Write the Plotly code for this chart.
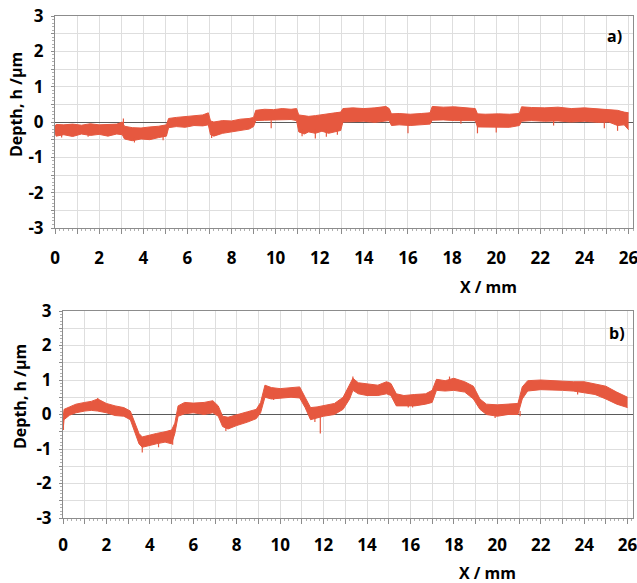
import plotly.graph_objects as go

# ---------------- data ----------------
# panel a): x positions, lower and upper edge of the noisy profile band (µm)
xa = [0.00, 0.05, 0.40, 0.80, 1.20, 1.60, 2.00, 2.40, 2.80, 3.05,
      3.15, 3.50, 3.90, 4.30, 4.70, 5.05,
      5.15, 5.50, 5.90, 6.30, 6.70, 6.95,
      7.05, 7.20, 7.60, 8.00, 8.40, 8.80, 9.00,
      9.10, 9.50, 9.90, 10.30, 10.70, 10.95,
      11.05, 11.30, 11.50, 11.80, 12.10, 12.40, 12.70, 12.95,
      13.05, 13.50, 14.00, 14.50, 15.00, 15.15,
      15.25, 15.60, 16.10, 16.60, 17.00,
      17.10, 17.60, 18.10, 18.60, 19.05,
      19.15, 19.50, 20.10, 20.60, 21.05,
      21.15, 21.60, 22.20, 22.80, 23.40, 24.00, 24.60, 25.10, 25.50, 25.80, 26.00]
lo_a = [-0.28, -0.40, -0.36, -0.41, -0.34, -0.38, -0.35, -0.40, -0.34, -0.36,
        -0.48, -0.53, -0.48, -0.50, -0.44, -0.40,
        -0.16, -0.13, -0.15, -0.10, -0.11, -0.08,
        -0.36, -0.40, -0.32, -0.28, -0.26, -0.20, -0.13,
        0.04, 0.05, 0.06, 0.05, 0.07, 0.04,
        -0.28, -0.34, -0.28, -0.32, -0.26, -0.32, -0.28, -0.24,
        0.00, 0.00, 0.02, -0.01, 0.02, 0.04,
        -0.10, -0.08, -0.10, -0.08, -0.06,
        0.05, 0.06, 0.04, 0.05, 0.04,
        -0.14, -0.14, -0.13, -0.15, -0.10,
        0.02, 0.04, 0.02, 0.03, 0.00, 0.02, -0.01, 0.00, -0.10, -0.08, -0.22]
hi_a = [-0.12, -0.07, -0.08, -0.06, -0.09, -0.05, -0.08, -0.07, -0.06, 0.00,
        -0.12, -0.16, -0.17, -0.14, -0.12, -0.08,
        0.10, 0.13, 0.16, 0.18, 0.20, 0.26,
        0.03, 0.00, 0.04, 0.03, 0.08, 0.10, 0.13,
        0.33, 0.36, 0.35, 0.38, 0.36, 0.38,
        0.20, 0.18, 0.16, 0.18, 0.20, 0.23, 0.26, 0.28,
        0.38, 0.40, 0.38, 0.40, 0.44, 0.38,
        0.23, 0.24, 0.22, 0.24, 0.26,
        0.44, 0.42, 0.43, 0.40, 0.38,
        0.23, 0.22, 0.23, 0.22, 0.24,
        0.43, 0.41, 0.40, 0.42, 0.38, 0.40, 0.38, 0.36, 0.33, 0.28, 0.26]
# narrow spikes of panel a): x, start, end (µm)
spk_a_x = [0.30, 1.50, 3.10, 3.60, 4.90, 7.10, 9.80, 11.20, 11.80, 12.30, 12.80,
           16.00, 18.40, 19.15, 20.00, 22.60, 24.90, 25.50]
spk_a_from = [-0.30, -0.30, -0.10, -0.45, -0.35, -0.30, 0.05, -0.20, -0.20, -0.20, -0.20,
              -0.05, 0.10, -0.10, -0.10, 0.05, 0.00, 0.00]
spk_a_to = [-0.44, -0.42, 0.10, -0.58, -0.52, -0.45, -0.18, -0.40, -0.47, -0.42, -0.36,
            -0.32, -0.05, -0.32, -0.30, -0.10, -0.18, -0.25]

# panel b)
xb = [0.00, 0.05, 0.30, 0.60, 1.00, 1.30, 1.60, 2.00, 2.40, 2.80, 3.10,
      3.30, 3.50, 3.65, 3.90, 4.30, 4.70, 5.00, 5.15,
      5.30, 5.60, 6.00, 6.50, 6.90, 7.15,
      7.35, 7.60, 8.00, 8.50, 8.90, 9.10,
      9.30, 9.60, 10.00, 10.50, 10.90, 11.15,
      11.40, 11.70, 12.00, 12.50, 12.90,
      13.20, 13.35, 13.60, 14.00, 14.50, 14.90, 15.10,
      15.35, 15.70, 16.20, 16.70, 17.00,
      17.20, 17.60, 18.00, 18.50, 18.90,
      19.20, 19.50, 20.00, 20.50, 20.95,
      21.15, 21.40, 22.00, 22.50, 23.00, 23.50, 24.00, 24.50, 25.00, 25.50, 26.00]
lo_b = [-0.45, -0.15, -0.02, 0.05, 0.10, 0.12, 0.10, 0.05, -0.03, -0.05, -0.15,
        -0.50, -0.85, -0.95, -0.92, -0.85, -0.80, -0.85, -0.55,
        -0.05, 0.02, 0.05, 0.00, 0.05, -0.05,
        -0.35, -0.42, -0.32, -0.22, -0.12, 0.05,
        0.50, 0.45, 0.48, 0.50, 0.48, 0.20,
        -0.15, -0.10, -0.05, 0.00, 0.15,
        0.45, 0.70, 0.60, 0.55, 0.55, 0.60, 0.55,
        0.25, 0.25, 0.25, 0.30, 0.35,
        0.70, 0.68, 0.70, 0.65, 0.45,
        0.15, 0.00, -0.05, 0.00, 0.00,
        0.45, 0.68, 0.72, 0.72, 0.70, 0.68, 0.62, 0.58, 0.45, 0.30, 0.20]
hi_b = [-0.10, 0.15, 0.22, 0.30, 0.35, 0.38, 0.45, 0.32, 0.25, 0.20, 0.10,
        -0.20, -0.55, -0.65, -0.62, -0.55, -0.50, -0.45, -0.25,
        0.25, 0.35, 0.33, 0.35, 0.40, 0.25,
        -0.05, -0.08, 0.00, 0.08, 0.15, 0.35,
        0.85, 0.78, 0.75, 0.78, 0.80, 0.50,
        0.20, 0.22, 0.25, 0.32, 0.50,
        0.85, 1.05, 0.92, 0.88, 0.85, 0.95, 0.90,
        0.60, 0.55, 0.58, 0.60, 0.70,
        1.02, 0.98, 1.05, 0.95, 0.82,
        0.45, 0.30, 0.28, 0.30, 0.32,
        0.80, 0.98, 1.00, 0.98, 0.98, 0.95, 0.95, 0.88, 0.82, 0.65, 0.50]
spk_b_x = [0.02, 1.60, 3.65, 4.40, 5.05, 7.50, 9.70, 11.60, 11.85, 13.35, 15.90,
           16.10, 17.80, 19.90, 21.05, 23.70, 25.20]
spk_b_from = [-0.20, 0.30, -0.80, -0.70, -0.60, -0.30, 0.60, 0.00, 0.00, 0.90, 0.40,
              0.40, 0.90, 0.00, 0.10, 0.80, 0.60]
spk_b_to = [-0.45, 0.48, -1.10, -0.95, -0.88, -0.48, 0.42, -0.22, -0.55, 1.10, 0.20,
            0.20, 1.10, -0.10, -0.05, 0.58, 0.40]

# axis ticks
y_ticks = [-3, -2.5, -2, -1.5, -1, -0.5, 0, 0.5, 1, 1.5, 2, 2.5, 3]
y_labels = ["-3", "", "-2", "", "-1", "", "0", "", "1", "", "2", "", "3"]
x_ticks = list(range(0, 27))
x_labels = [str(v) if v % 2 == 0 else "" for v in x_ticks]

COLOR = "#E6583F"
GRID = "#dedede"
AXIS = "#8c8c8c"
FONT = "Open Sans"

fig = go.Figure()


def add_panel(x, lo, hi, sx, sfrom, sto, xa_name, ya_name):
    fig.add_trace(go.Scatter(x=x, y=lo, mode="lines", line=dict(color=COLOR, width=1),
                             xaxis=xa_name, yaxis=ya_name, showlegend=False, hoverinfo="skip"))
    fig.add_trace(go.Scatter(x=x, y=hi, mode="lines", line=dict(color=COLOR, width=1),
                             fill="tonexty", fillcolor=COLOR,
                             xaxis=xa_name, yaxis=ya_name, showlegend=False, hoverinfo="skip"))
    px, py = [], []
    for xv, a, b in zip(sx, sfrom, sto):
        px += [xv, xv, None]
        py += [a, b, None]
    fig.add_trace(go.Scatter(x=px, y=py, mode="lines", line=dict(color=COLOR, width=1.2),
                             xaxis=xa_name, yaxis=ya_name, showlegend=False, hoverinfo="skip"))


add_panel(xa, lo_a, hi_a, spk_a_x, spk_a_from, spk_a_to, "x", "y")
add_panel(xb, lo_b, hi_b, spk_b_x, spk_b_from, spk_b_to, "x2", "y2")

W, H = 637, 583


def xdom(l, r):
    return [l / W, r / W]


def ydom(top, bottom):
    return [1 - bottom / H, 1 - top / H]


tickfont = dict(family=FONT, size=17, color="black", weight="bold")


def xaxis_cfg(dom, anchor, rng, standoff):
    return dict(domain=dom, anchor=anchor, range=rng, tickmode="array",
                tickvals=x_ticks, ticktext=x_labels, ticks="outside", ticklen=5,
                tickcolor=AXIS, showgrid=True, gridcolor=GRID, gridwidth=1,
                showline=True, linecolor=AXIS, linewidth=1, mirror=True,
                zeroline=False, tickfont=tickfont, ticklabelstandoff=standoff,
                ticklabeloverflow="allow",
                minor=dict(dtick=0.2, ticks="outside", ticklen=2, tickcolor="#b0b0b0",
                           showgrid=False),
                automargin=False, fixedrange=True)


def yaxis_cfg(dom, anchor):
    return dict(domain=dom, anchor=anchor, range=[-3, 3], tickmode="array",
                tickvals=y_ticks, ticktext=y_labels, ticks="outside", ticklen=3,
                tickcolor=AXIS, showgrid=True, gridcolor=GRID, gridwidth=1,
                showline=True, linecolor=AXIS, linewidth=1, mirror=True,
                zeroline=True, zerolinecolor="#5a5a5a", zerolinewidth=1,
                tickfont=tickfont, ticklabelstandoff=4,
                minor=dict(dtick=0.1, ticks="outside", ticklen=2, tickcolor="#b0b0b0",
                           showgrid=False),
                automargin=False, fixedrange=True)


fig.update_layout(
    width=W, height=H,
    margin=dict(l=0, r=0, t=0, b=0),
    paper_bgcolor="white", plot_bgcolor="white",
    xaxis=xaxis_cfg(xdom(55, 633), "y", [0, 26.2], 10),
    yaxis=yaxis_cfg(ydom(16, 228), "x"),
    xaxis2=xaxis_cfg(xdom(63, 633), "y2", [0, 26.25], 7),
    yaxis2=yaxis_cfg(ydom(311, 518), "x2"),
)

title_font = dict(family=FONT, size=16, color="black", weight="bold")
annots = [
    dict(text="Depth, h /µm", x=16 / W, y=1 - 105 / H, textangle=-90),
    dict(text="Depth, h /µm", x=20 / W, y=1 - 397 / H, textangle=-90),
    dict(text="X / mm", x=488 / W, y=1 - 287 / H),
    dict(text="X / mm", x=487 / W, y=1 - 573 / H),
    dict(text="a)", x=614 / W, y=1 - 36 / H),
    dict(text="b)", x=617 / W, y=1 - 333 / H),
]
for a in annots:
    fig.add_annotation(xref="paper", yref="paper", showarrow=False,
                       xanchor="center", yanchor="middle", font=title_font, **a)

fig.write_html("out.html", config={"displayModeBar": False},
               post_script="document.body.style.margin='0px';"
                           "document.body.style.overflow='hidden';")
